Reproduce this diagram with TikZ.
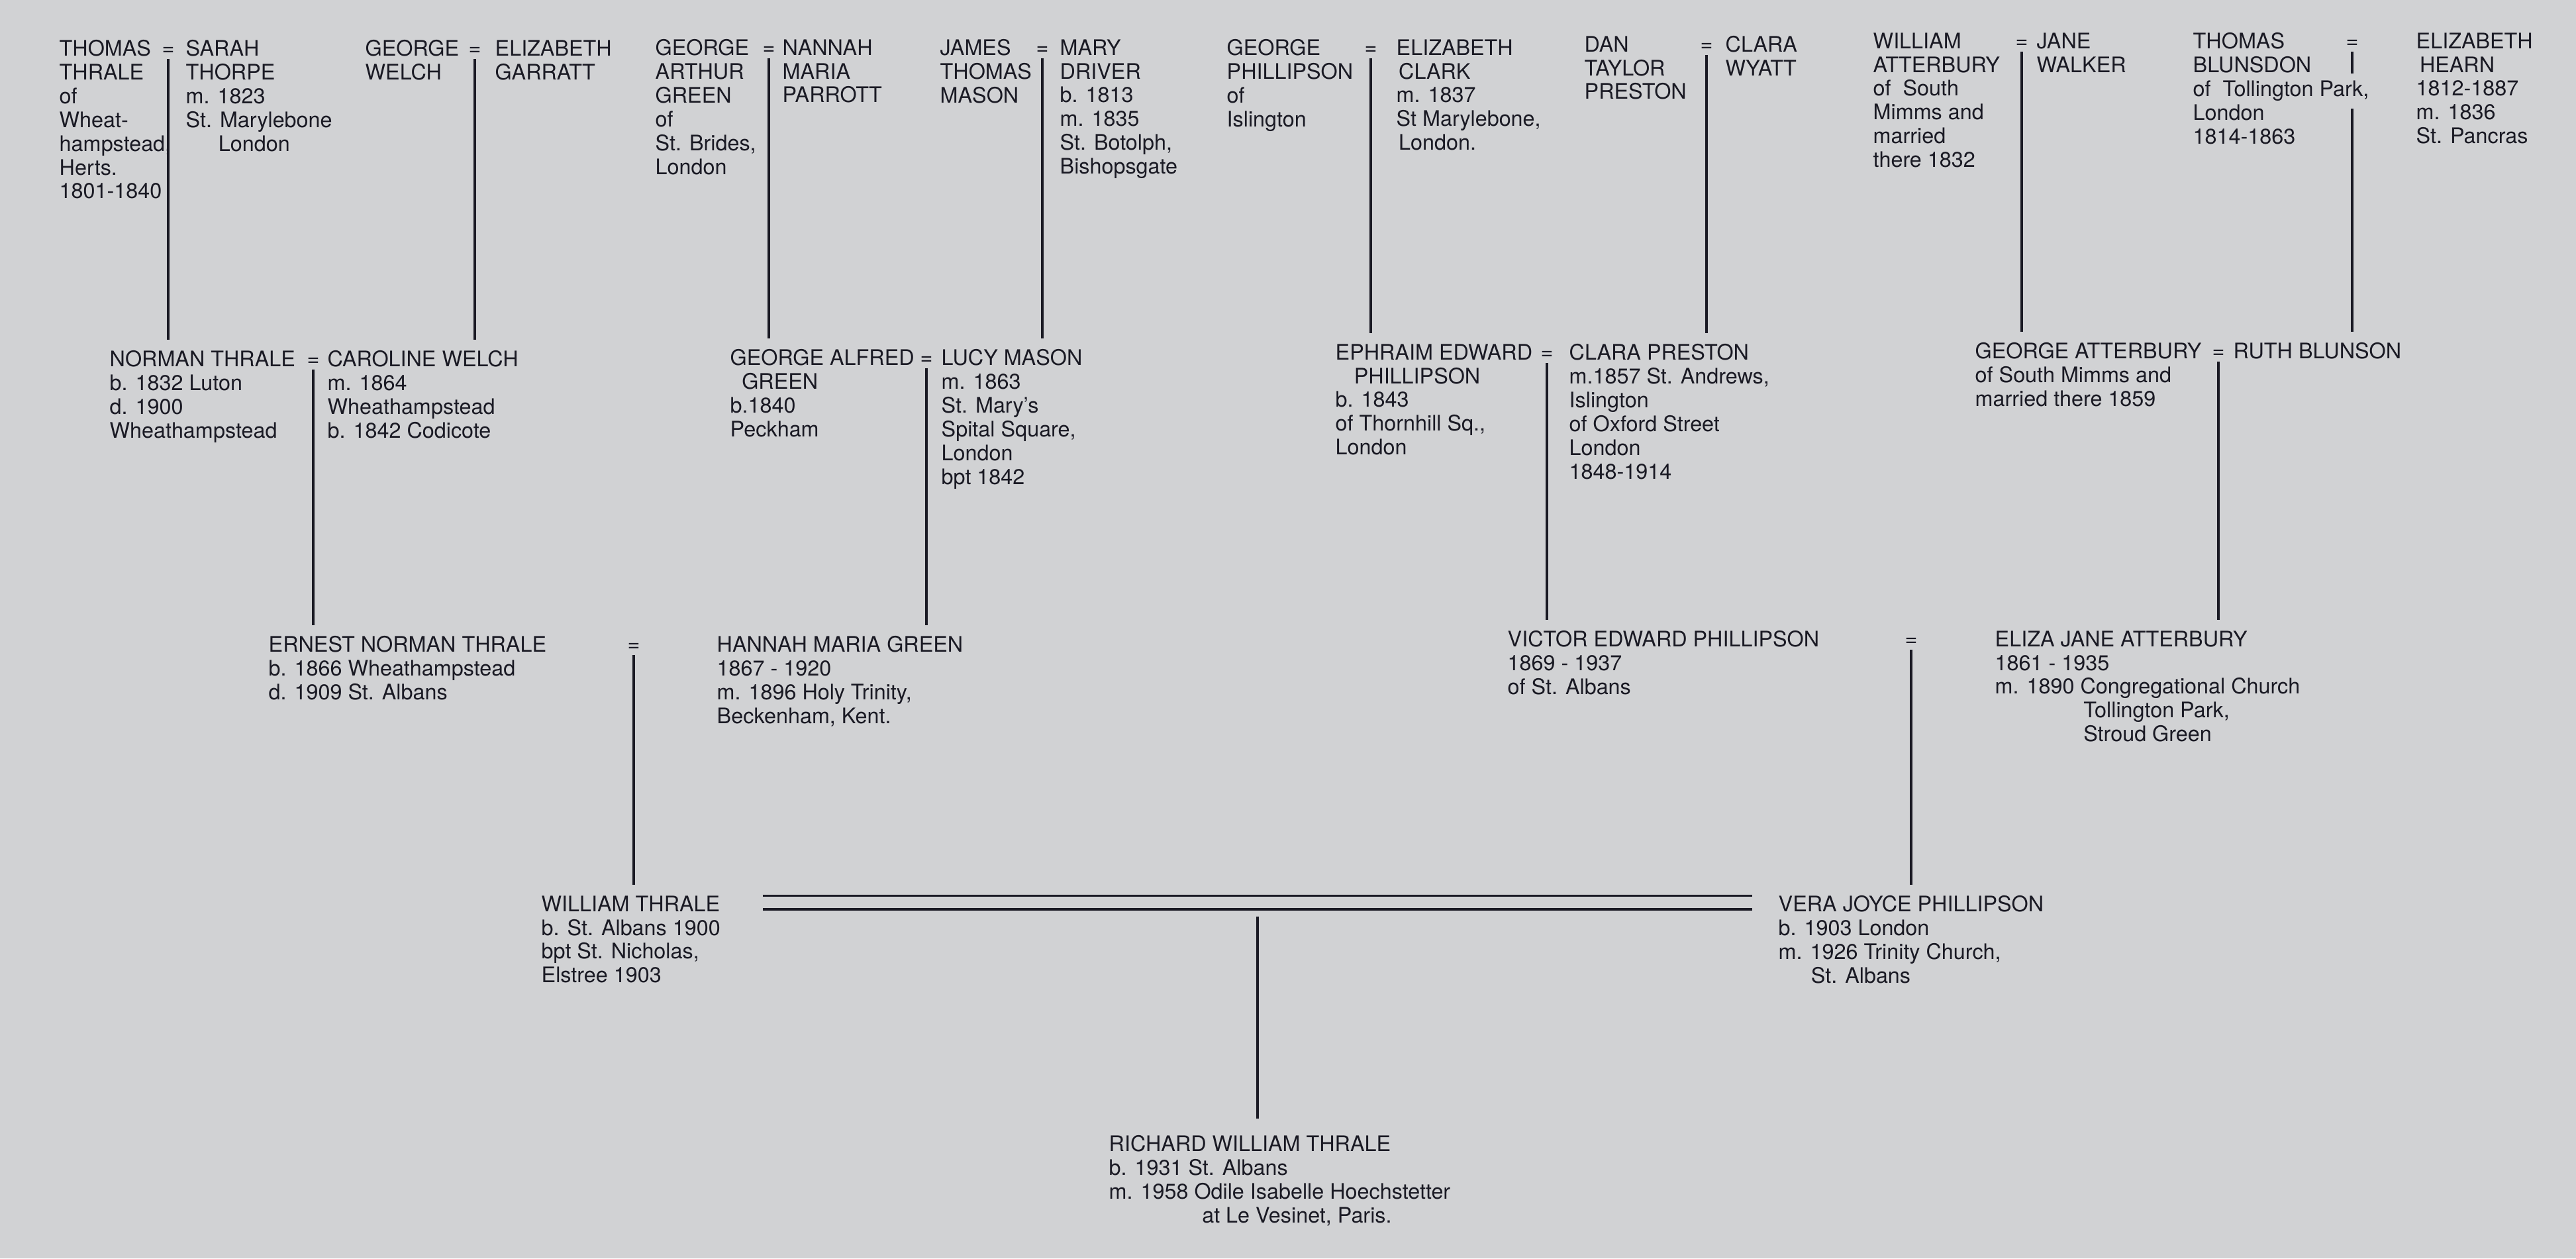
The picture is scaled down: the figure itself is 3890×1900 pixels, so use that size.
\documentclass[tikz,border=0pt]{standalone}
\usepackage{fontspec}
\setmainfont{TeX Gyre Heros}
\usetikzlibrary{positioning}
\definecolor{paper}{RGB}{209,210,212}
\definecolor{ink}{RGB}{26,26,36}
\newcommand{\treefont}{\fontsize{9.2}{10.2}\selectfont}

\begin{document}
\begin{tikzpicture}[
        x=0.1mm, y=-0.1mm,
        person/.style={anchor=north west, align=left, inner sep=0pt, text=ink, font=\treefont},
        marriage/.style={anchor=base, inner sep=1.5pt, text=ink, font=\treefont},
        descent/.style={draw=ink, line width=0.9pt, shorten >=4.5pt},
        wedding/.style={draw=ink, line width=0.9pt, double=paper, double distance=5pt}
    ]

        % Paper
        \fill[paper] (0,0) rectangle (3890,1900);

        % First generation
        \node[person] (thomas) at (89,60) {THOMAS\\THRALE\\of\\Wheat-\\hampstead,\\Herts.\\1801-1840};
        \node[marriage] (M-1) at (254,83) {=};
        \node[person] (sarah) at (280,60) {SARAH\\THORPE\\m. 1823\\St. Marylebone\\\hspace*{14pt}London};

        \node[person] (georgew) at (551,60) {GEORGE\\WELCH};
        \node[marriage] (M-2) at (717,83) {=};
        \node[person] (elizabethg) at (747,60) {ELIZABETH\\GARRATT};

        \node[person] (georgeg) at (989,59) {GEORGE\\ARTHUR\\GREEN\\of\\St. Brides,\\London};
        \node[marriage] (M-3) at (1161,82) {=};
        \node[person] (nannah) at (1181,59) {NANNAH\\MARIA\\PARROTT};

        \node[person] (james) at (1419,59) {JAMES\\THOMAS\\MASON};
        \node[marriage] (M-4) at (1574,82) {=};
        \node[person] (mary) at (1600,59) {MARY\\DRIVER\\b. 1813\\m. 1835\\St. Botolph,\\Bishopsgate};

        \node[person] (georgep) at (1852,59) {GEORGE\\PHILLIPSON\\of\\Islington};
        \node[marriage] (M-5) at (2070,82) {=};
        \node[person] (elizabethc) at (2108,59) {ELIZABETH\\\hspace*{1pt}CLARK\\m. 1837\\St Marylebone,\\\hspace*{1pt}London.};

        \node[person] (dan) at (2392,54) {DAN\\TAYLOR\\PRESTON};
        \node[marriage] (M-6) at (2577,77) {=};
        \node[person] (clara) at (2605,54) {CLARA\\WYATT};

        \node[person] (william) at (2828,49) {WILLIAM\\ATTERBURY\\of\ \ South\\Mimms and\\married\\there 1832};
        \node[marriage] (M-7) at (3053,72) {=};
        \node[person] (jane) at (3075,49) {JANE\\WALKER};

        \node[person] (thomasb) at (3311,49) {THOMAS\\BLUNSDON\\of\ \ Tollington Park,\\London\\1814-1863};
        \node[marriage] (M-8) at (3552,72) {=};
        \node[person] (elizabethh) at (3648,49) {ELIZABETH\\\hspace*{1.5pt}HEARN\\1812-1887\\m. 1836\\St. Pancras};

        % Second generation
        \node[person] (norman) at (165,529) {NORMAN THRALE\\b. 1832 Luton\\d. 1900\\Wheathampstead};
        \node[marriage] (M-9) at (473,552) {=};
        \node[person] (caroline) at (494,529) {CAROLINE WELCH\\m. 1864\\Wheathampstead\\b. 1842 Codicote};

        \node[person] (georgea) at (1102,527) {GEORGE ALFRED\\\hspace*{5pt}GREEN\\b.1840\\Peckham};
        \node[marriage] (M-10) at (1399,550) {=};
        \node[person] (lucy) at (1421,527) {LUCY MASON\\m. 1863\\St. Mary's\\Spital Square,\\London\\bpt 1842};

        \node[person] (ephraim) at (2016,519) {EPHRAIM EDWARD\\\hspace*{8pt}PHILLIPSON\\b. 1843\\of Thornhill Sq.,\\London};
        \node[marriage] (M-11) at (2336,542) {=};
        \node[person] (clarap) at (2369,519) {CLARA PRESTON\\m.1857 St. Andrews,\\Islington\\of Oxford Street\\London\\1848-1914};

        \node[person] (georgeat) at (2982,517) {GEORGE ATTERBURY\\of South Mimms and\\married there 1859};
        \node[marriage] (M-12) at (3350,540) {=};
        \node[person] (ruth) at (3372,517) {RUTH BLUNSON};

        % Third generation
        \node[person] (ernest) at (405,960) {ERNEST NORMAN THRALE\\b. 1866 Wheathampstead\\d. 1909 St. Albans};
        \node[marriage] (M-13) at (957,983) {=};
        \node[person] (hannah) at (1082,960) {HANNAH MARIA GREEN\\1867 - 1920\\m. 1896 Holy Trinity,\\Beckenham, Kent.};

        \node[person] (victor) at (2276,952) {VICTOR EDWARD PHILLIPSON\\1869 - 1937\\of St. Albans};
        \node[marriage] (M-14) at (2886,975) {=};
        \node[person] (eliza) at (3012,952) {ELIZA JANE ATTERBURY\\1861 - 1935\\m. 1890 Congregational Church\\\hspace*{38pt}Tollington Park,\\\hspace*{38pt}Stroud Green};

        % Fourth and fifth generation
        \node[person] (williamt) at (817,1352) {WILLIAM THRALE\\b. St. Albans 1900\\bpt St. Nicholas,\\Elstree 1903};
        \node[person] (vera) at (2685,1352) {VERA JOYCE PHILLIPSON\\b. 1903 London\\m. 1926 Trinity Church,\\\hspace*{14pt}St. Albans};
        \node[person] (richard) at (1674,1714) {RICHARD WILLIAM THRALE\\b. 1931 St. Albans\\m. 1958 Odile Isabelle Hoechstetter\\\hspace*{40pt}at Le Vesinet, Paris.};

        % Lines of descent
        \foreach \m/\child in {M-1/norman, M-2/caroline, M-3/georgea, M-4/lucy, M-5/ephraim,
                M-6/clarap, M-7/georgeat, M-9/ernest, M-10/hannah, M-11/victor, M-12/eliza,
                M-13/williamt, M-14/vera}
        {
            \draw[descent] (\m.south) -- (\m.south |- \child.north);
        }
        \draw[descent, dash pattern=on 9.5pt off 15pt on 200pt] (M-8.south) -- (M-8.south |- ruth.north);

        % Marriage of William and Vera
        \path (williamt.north east) ++(18pt,-3pt) coordinate (wed-left);
        \path (vera.north west) ++(-11pt,-3pt) coordinate (wed-right);
        \draw[wedding] (wed-left) -- coordinate (wed-mid) (wed-right);
        \draw[descent, shorten <=6pt, shorten >=7pt] (wed-mid) -- (wed-mid |- richard.north);

\end{tikzpicture}
\end{document}
